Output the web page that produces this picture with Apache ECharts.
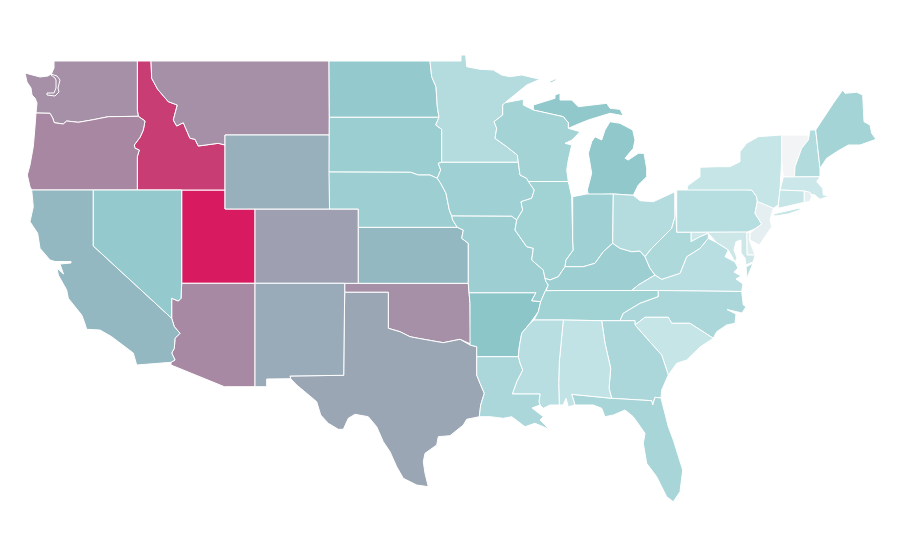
<!DOCTYPE html>
<html><head><meta charset="utf-8">
<style>html,body{margin:0;padding:0;background:#fff}#c{width:900px;height:560px}</style>
<script src="https://cdn.jsdelivr.net/npm/echarts@6/dist/echarts.min.js"></script>
</head><body><div id="c"></div>
<script>
const stateNames = ["Utah","Idaho","Washington","Montana","Oregon","Arizona","Oklahoma","Colorado","Texas","New Mexico","Wyoming","California","Kansas","Nevada","North Dakota","Arkansas","Michigan","South Dakota","Nebraska","Minnesota","Iowa","Missouri","Wisconsin","Illinois","Indiana","Kentucky","Tennessee","Ohio","Pennsylvania","New York","Vermont","New Hampshire","Maine","Massachusetts","Connecticut","Rhode Island","New Jersey","Delaware","Maryland","Virginia","West Virginia","North Carolina","South Carolina","Georgia","Florida","Alabama","Mississippi","Louisiana"];
const stateValues = [100,90,66,66,68.5,68,66,61.5,59.5,58,56.5,54,54,46.5,46.5,50,48,43,42,31,41,42,39,40,41,42,40,31,30,22.5,0,32,38,19,22.5,8,7,10,18.5,29,34,35,22.5,35,37,24.5,29,35];

// State outlines
const shapes = {
"Washington":["54,61 137.3,61 137.3,110 138.3,116.3 108.3,116.7 93.3,119.7 78.3,122.3 66.7,121 63.3,124 54.3,122.7 52.7,118 50,113.3 36,113 37,103 35,98 32,95 31,88 27,82 25,73 40,77 48,76 51,74 57,76 60,80 58,88 59,92 55,96 47,95 47,93 54,93 56,88 56,80 55,78 51,75 54,68"],
"Oregon":["36,113 50,113.3 52.7,118 54.3,122.7 63.3,124 66.7,121 78.3,122.3 93.3,119.7 108.3,116.7 138.3,116.3 145,121 143.3,130 140,137.3 134.3,145 135,148.3 139.3,150 137.3,156.7 137.3,190 31.7,190 30,186.7 27.3,175 30,165 33.3,146.7 35,126.7"],
"Idaho":["137.3,61 151,61 151.7,78.3 157.7,89.3 168.3,101.7 177.3,105 173.3,120 176.7,126 183.3,122.7 190,138.3 195,139.3 198.3,146 218.3,143.3 225,145 225,190 137.3,190 137.3,156.7 139.3,150 135,148.3 134.3,145 140,137.3 143.3,130 145,121 138.3,116.3 137.3,110"],
"Montana":["151,61 329,61 329.3,117 329.3,135 225,135 225,145 218.3,143.3 198.3,146 195,139.3 190,138.3 183.3,122.7 176.7,126 173.3,120 177.3,105 168.3,101.7 157.7,89.3 151.7,78.3"],
"Wyoming":["225,135 329.3,135 329.5,209 225,209"],
"Utah":["181.7,190 225,190 225,209 255,209 255,283.3 181.7,283.3"],
"Nevada":["93.3,190 181.7,190 181.7,283.3 181,298.3 178.3,301 171.7,298.3 171.7,318.3 93.3,246"],
"California":["31.7,190 93.3,190 93.3,246 171.7,318.3 174.3,326.7 180,333.3 175,338.3 174.3,348.3 171.7,353 175,360 171,362.3 136.7,365 133.3,353 118.3,341.7 111.7,336.7 100,330 86.7,329.3 84.3,321.7 81.7,315 68.3,298.3 66.7,290 58.3,275 57,268 63.5,274 60,264 71,263 71,261.5 55,261.5 50,260 40,248.3 37.7,233.3 30,221.7 33.3,206.7"],
"Arizona":["181.7,283.3 255,283.3 255,386.7 224.3,386.7 171,365 171,362.3 175,360 171.7,353 174.3,348.3 175,338.3 180,333.3 174.3,326.7 171.7,318.3 171.7,298.3 178.3,301 181,298.3"],
"Colorado":["255,209 358.3,209 358.3,283.3 255,283.3"],
"New Mexico":["255,283.3 344.7,283.3 344.7,292.3 344,343 343.7,375.3 290,376 290.7,378.7 266.7,379 266.7,386.7 255,386.7"],
"Kansas":["358.3,227.3 457.3,227.3 463.3,230 461.7,238.3 468.3,243.3 468.3,283.3 358.3,283.3"],
"Oklahoma":["344.7,283.3 468.3,283.3 470,303.3 470.7,344 470,345 460,339.3 443.3,342.7 431.7,340.7 418.3,338.3 410,336.7 400,331.7 388.3,328.3 388.3,292.3 344.7,292.3"],
"Texas":["344.7,292.3 388.3,292.3 388.3,328.3 400,331.7 410,336.7 418.3,338.3 431.7,340.7 443.3,342.7 460,339.3 470,345 476.7,346.7 476.7,375 480,383.3 484.3,393.3 480.7,405 479.3,416.7 466.7,419.3 463.3,425 450,435.7 438.3,436.7 436.7,445 425,453.3 423.3,461.7 425,473.3 428.3,486.7 416.7,485 403.3,478.3 396.7,466.7 390,451.7 383.3,441.7 376.7,426.7 368.3,416.7 355,414.3 348.3,418.3 343.3,429.3 338.3,429.3 328.3,423.3 320.7,415 316.7,401.7 306.7,393.3 296.7,385 290.7,378.7 290,376 343.7,375.3 344,343"],
"North Dakota":["329,61 430,61 431.7,76.7 436,86.7 437.3,106.7 439,117.3 329.3,117.3"],
"South Dakota":["329.3,117.3 439,117.3 435.7,125 441.7,129.3 441.7,162.3 438.3,163.3 440.7,170 437.3,178.3 430,175 418.3,175 410.7,172.3 329,172"],
"Nebraska":["329,172 410.7,172.3 418.3,175 430,175 437.3,178.3 440.7,183.3 446,193.3 449.3,210 451.7,216 452.7,220 457.3,227.3 358.3,227.3 358.3,209 329.5,209"],
"Minnesota":["430,61 461,61 461,55 465.7,55 466.7,66.7 480,69.3 493.3,70 501.7,75 510,76.7 521.7,75 540,79.3 526.7,85 505,102.7 502.7,105 502.7,115 494,121.7 496.7,128.3 495,138.3 506.7,146.7 517.3,155 518.3,162.3 441.7,162.3 441.7,129.3 435.7,125 439,117.3 437.3,106.7 436,86.7 431.7,76.7"],
"Iowa":["441.7,162.3 518.3,162.3 520,175 526.7,178.3 534.3,190 531.7,198.3 521,201.7 522.7,210 516.7,220 511.7,216.3 451.7,216 449.3,210 446,193.3 440.7,183.3 437.3,178.3 440.7,170 438.3,163.3"],
"Wisconsin":["505,102.7 523.3,99.3 523.3,105 533.3,110 563.3,116.7 568.3,122.7 568.3,128.3 580,131.7 572,140 565,143.3 571.7,145 568.3,160 566.7,170 568.3,181.5 528.3,181.5 526.7,178.3 520,175 518.3,162.3 517.3,155 506.7,146.7 495,138.3 496.7,128.3 494,121.7 502.7,115 502.7,105"],
"Illinois":["528.3,181.5 568.3,181.5 571.7,196.7 572.7,240 573.3,250 566,260 565,266.7 558.3,276.7 550,280 545,278.3 543.3,270 531.7,260 533.3,248.3 526.7,246.7 515,230 516.7,220 522.7,210 521,201.7 531.7,198.3 534.3,190"],
"Indiana":["572.7,196.7 586.7,194 613.3,194 612.7,243.3 603.3,251.7 595,263.3 583.3,266.7 565,266.7 566,260 573.3,250 572.7,240"],
"Ohio":["613.3,194 633.3,195.3 640,200.7 653.3,201.7 675,191.7 675,216.7 671.7,228.3 660,240 651.7,248.3 645,256.7 640,251 631.7,251.7 620,248.3 612.7,243.3"],
"Michigan":["588.3,195 613.3,194 633.3,195.3 638.3,185 646.7,176.7 646.7,168.3 644,153.3 638.3,153.3 628.3,160 625,158.3 633.3,148.3 635,140 632.7,130 620,123.3 610,121.7 605,130 601.7,140 595,136.7 591.7,141.7 588.3,153.3 591.7,173.3 587.3,190","533.3,105 555,98.3 555,95 568.3,90 560,93.3 560,100 571.7,100 578.3,106.7 606.7,103.3 610,108.3 620,109.3 623.3,115.7 610,113.3 588.3,120 580,123.3 568.3,128.3 568.3,122.7 563.3,116.7 533.3,110","549,82 556,78.5 556,80 551,83"],
"Missouri":["451.7,216 511.7,216.3 516.7,220 515,230 526.7,246.7 533.3,248.3 531.7,260 543.3,270 545,278.3 546,281.7 548.3,285 545,291.7 540.7,301.7 531.7,300.7 536,292.7 469,292.7 468.3,283.3 468.3,243.3 461.7,238.3 463.3,230 457.3,227.3 452.7,220"],
"Arkansas":["469,292.7 536,292.7 531.7,300.7 540.7,301.7 538.3,311.7 530,323.3 521.7,333.3 519.3,346.7 518.3,356.7 476.7,356.7 476.7,346.7 470,345 470.7,344 470,303.3"],
"Louisiana":["476.7,356.7 518.3,356.7 520,363.3 522.7,370 516.7,381.7 512.3,394 540,394 539,401.7 540,405 532,408 536,411 543.3,416.7 540,420 549.3,429.3 535,423.3 525,426.7 511.7,416.7 503.3,418.3 490,416.7 479.3,416.7 480.7,405 484.3,393.3 480,383.3 476.7,375"],
"Mississippi":["534,320 563.3,320 559.3,361.7 558.7,383.3 559.3,405 550,405 543.3,408.3 540,405 539,401.7 540,394 512.3,394 516.7,381.7 522.7,370 520,363.3 518.3,356.7 519.3,346.7 521.7,333.3 530,323.3"],
"Alabama":["563.3,320 601.7,320.7 605,343.3 610.7,368.3 609,388.3 611.7,398.3 571.7,394.3 575,405 568.3,406.7 566,398.3 563.3,405 559.3,405 558.7,383.3 559.3,361.7"],
"Georgia":["601.7,320.7 635,320.7 635,325 646.7,338.3 661.7,355 666.7,370 668.3,375 661.7,390 661,398 655,397.3 652.7,405 651.7,400.7 611.7,398.3 609,388.3 610.7,368.3 605,343.3"],
"Florida":["571.7,394.3 611.7,398.3 651.7,400.7 652.7,405 655,397.3 661,398 668.3,426.7 673.3,440 682.7,470 680,491.7 673.3,501.7 666.7,496.7 656.7,476.7 646.7,463.3 643.3,443.3 645,433.3 633.3,416.7 625,410 613.3,415 605,416.7 601.7,408.3 593.3,405 575,405"],
"South Carolina":["635,325 645,317.3 668.3,317.3 671.7,323.3 690,323.3 713.3,338.3 700,347 686.7,360 676.7,363.3 668.3,375 666.7,370 661.7,355 646.7,338.3"],
"North Carolina":["658.3,290.5 741.7,291.5 743.3,305 746,306.7 742,313 727,309.5 736,314 735,323.3 726.7,325 716.7,331.7 713.3,338.3 690,323.3 671.7,323.3 668.3,317.3 645,317.3 635,325 635,320.7 620,320.7 623.3,313.3 640,303.3 658.3,296.7"],
"Tennessee":["546,290.7 565,290.5 631.7,290.5 658.3,290.5 658.3,296.7 640,303.3 623.3,313.3 620,320.7 601.7,320.7 563.3,320 534,320 538.3,311.7 540.7,301.7 545,291.7"],
"Kentucky":["565,266.7 583.3,266.7 595,263.3 603.3,251.7 612.7,243.3 620,248.3 631.7,251.7 640,251 645,256.7 650,268.3 655,275 638.3,285 631.7,290.5 565,290.5 546,290.7 548.3,285 546,281.7 545,278.3 550,280 558.3,276.7"],
"Virginia":["631.7,290.5 638.3,285 655,275 661.7,279.3 680,273.3 686.7,256.7 700,248.3 708.3,238.3 716.7,242.7 728.3,250 725,256.7 735,262 738,268 734,272 741,276 736,279 743,284 741.7,291.5 658.3,290.5","746,267 753,263 747,278"],
"West Virginia":["675,191.7 676.7,232.3 691,232.3 691,241.7 700,236.7 708.3,233.3 708.3,238.3 700,248.3 686.7,256.7 680,273.3 661.7,279.3 655,275 650,268.3 645,256.7 651.7,248.3 660,240 671.7,228.3 675,216.7"],
"Pennsylvania":["676.7,190 687.3,190 687.3,186 751.7,190 756.7,196.7 757.3,201.7 755,213.3 761.7,224 756,228.3 746.7,232.3 676.7,232.3"],
"Maryland":["691,232.3 746.7,232 747,255 755,255 753.3,261.7 746,265 745,258 741,253 741,240 736,241.7 734,250 737,258 735,262 728.3,250 716.7,242.7 708.3,233.3 700,236.7 691,241.7"],
"Delaware":["746.7,232 750,233.3 749.3,240 755,255 747,255"],
"New Jersey":["761.7,203.3 773.3,208.3 770,220 771.7,226.7 759.3,245 750,240 750,233.3 756,228.3 761.7,224 755,213.3 757.3,201.7"],
"New York":["687.3,186 687.3,190 751.7,190 756.7,196.7 757.3,201.7 761.7,203.3 773.3,208.3 778.3,205 780,190 781.7,160 781.7,135 758.3,136.7 746.7,143.3 740,151.7 740,161.7 730,166.7 718.3,166.7 700,167.3 700,176.7","773.3,214 798.3,208.3 801.7,209.3 788.3,214 775,216"],
"Connecticut":["780,190 804.3,191 804.3,202.3 778.3,208.3 778.3,205"],
"Rhode Island":["804.3,191 810,192.3 811.7,196.7 809.3,201.7 804.3,202.3"],
"Massachusetts":["783.3,177 820,176.7 816.7,181.7 822.7,188.3 823.3,195 830,195.7 820,199.3 815,195 811,194 804.3,191 780,190"],
"Vermont":["781.7,135 808.3,135 808.3,140 801.7,148.3 795,166.7 794.5,177 783.3,177 781.7,160"],
"New Hampshire":["810,130 815.7,130 820,168.3 820,176.7 794.5,177 795,166.7 801.7,148.3 808.3,140"],
"Maine":["815.7,130 833.3,103.3 842.7,90 845,93.3 856.7,92.3 862.7,95 864,121.7 870,125 871.7,133.3 876,139.3 860,145 848.3,145 836.7,151.7 826.7,158.3 820,168.3"]
};

const rings = n => shapes[n].map(s => s.split(" ").map(p => { const q = p.split(",").map(Number); return [q[0], -q[1]]; }));
const features = stateNames.map(n => ({
  type: "Feature", properties: { name: n },
  geometry: { type: "MultiPolygon", coordinates: rings(n).map(r => [r.concat([r[0]])]) }
}));
const all = features.flatMap(f => f.geometry.coordinates.flat(1).flat(1));
const xs = all.map(p => p[0]), ys = all.map(p => -p[1]);
const minX = Math.min(...xs), maxX = Math.max(...xs), minY = Math.min(...ys), maxY = Math.max(...ys);

echarts.registerMap("usa", { type: "FeatureCollection", features });
const chart = echarts.init(document.getElementById("c"), null, { renderer: "canvas" });
chart.setOption({
  backgroundColor: "#ffffff",
  animation: false,
  visualMap: { show: false, min: 0, max: 100, inRange: { color: ["#f3f4f5", "#c0e3e5", "#8dc6c9", "#b27194", "#d81b60"] } },
  series: [{
    type: "map", map: "usa", aspectScale: 1, roam: false, silent: true,
    left: minX, top: minY, width: maxX - minX, height: maxY - minY,
    label: { show: false },
    itemStyle: { borderColor: "#ffffff", borderWidth: 1 },
    data: stateNames.map((n, i) => ({ name: n, value: stateValues[i] }))
  }]
});
</script></body></html>
